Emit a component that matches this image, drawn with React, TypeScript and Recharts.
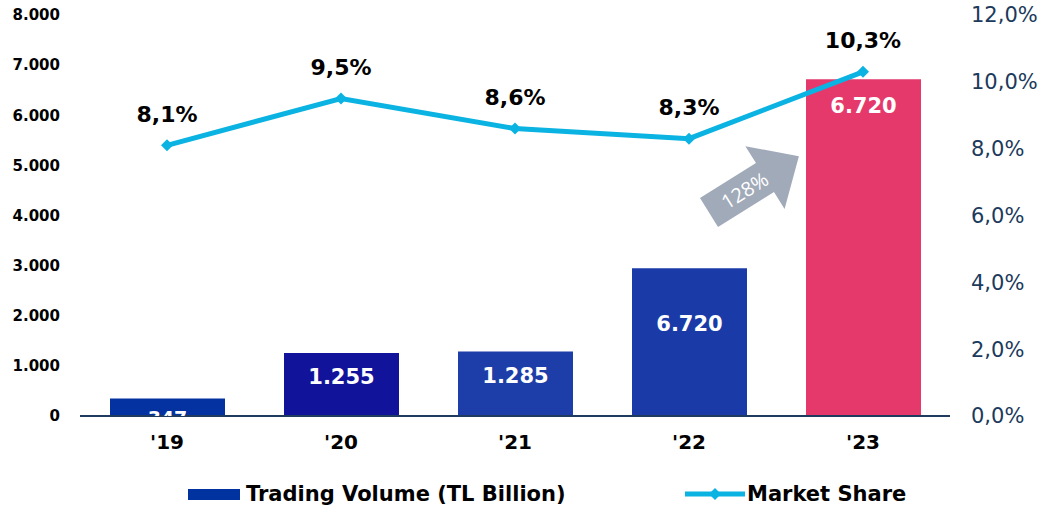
import React from "react";
import {
  ComposedChart,
  Bar,
  Line,
  XAxis,
  YAxis,
  Cell,
  LabelList,
  ReferenceDot,
} from "recharts";

const categories = ["'19", "'20", "'21", "'22", "'23"];
const tradingVolume = [347, 1255, 1285, 2950, 6720];
const volumeLabels = ["347", "1.255", "1.285", "6.720", "6.720"];
const marketShare = [8.1, 9.5, 8.6, 8.3, 10.3];
const barColors = ["#0432A0", "#11139B", "#1D3DA8", "#1A3BA7", "#E5396C"];
const leftTicks = [0, 1000, 2000, 3000, 4000, 5000, 6000, 7000, 8000];
const rightTicks = [0, 2, 4, 6, 8, 10, 12];
const growthLabel = "128%";
const growthAnchorCategory = "'22";
const growthAnchorValue = 4000;

const data = categories.map((c, i) => ({
  cat: c,
  volume: tradingVolume[i],
  volLabel: volumeLabels[i],
  share: marketShare[i],
}));

const FONT = "'DejaVu Sans', Verdana, sans-serif";
const LINE_COLOR = "#0AB3E2";

const fmtThousands = (v: number) =>
  String(v).replace(/\B(?=(\d{3})+(?!\d))/g, ".");
const fmtPct = (v: number) => v.toFixed(1).replace(".", ",") + "%";

const BarLabel = (props: any) => {
  const { x, y, width, height, index } = props;
  const h = Number(height);
  const small = h < 40;
  const cy = small ? y + h + 2 : h > 250 ? y + 27 : y + 0.38 * h;
  const id = `barclip-${index}`;
  return (
    <g>
      <defs>
        <clipPath id={id}>
          <rect x={x} y={y} width={width} height={h} />
        </clipPath>
      </defs>
      <text
        x={x + width / 2}
        y={cy}
        textAnchor="middle"
        dominantBaseline="central"
        fill="#FFFFFF"
        fontFamily={FONT}
        fontWeight="bold"
        fontSize={small ? 19 : 21}
        clipPath={`url(#${id})`}
      >
        {volumeLabels[index]}
      </text>
    </g>
  );
};

const ShareLabel = (props: any) => {
  const { x, y, index } = props;
  return (
    <text
      x={x}
      y={y - 31}
      textAnchor="middle"
      dominantBaseline="central"
      fill="#000000"
      fontFamily={FONT}
      fontWeight="bold"
      fontSize={22}
    >
      {fmtPct(marketShare[index])}
    </text>
  );
};

const Diamond = (props: any) => {
  const { cx, cy } = props;
  if (cx == null || cy == null) return null;
  const r = 6;
  return (
    <polygon
      points={`${cx},${cy - r} ${cx + r},${cy} ${cx},${cy + r} ${cx - r},${cy}`}
      fill={LINE_COLOR}
    />
  );
};

const GrowthArrow = (props: any) => {
  const { cx, cy } = props;
  if (cx == null || cy == null) return null;
  return (
    <g transform={`translate(${cx + 20},${cy - 3}) rotate(-32)`}>
      <polygon
        points="0,-17 66,-17 66,-37 106,0 66,37 66,17 0,17"
        fill="#A1AAB9"
      />
      <text
        x={42}
        y={0}
        textAnchor="middle"
        dominantBaseline="central"
        fill="#FFFFFF"
        fontFamily="'Open Sans', 'DejaVu Sans', sans-serif"
        fontWeight={400}
        fontSize={20}
      >
        {growthLabel}
      </text>
    </g>
  );
};

export default function App() {
  return (
    <div
      style={{
        position: "absolute",
        left: 0,
        top: 0,
        width: 1062,
        height: 513,
        background: "#FFFFFF",
        fontFamily: FONT,
      }}
    >
      <ComposedChart
        width={1062}
        height={470}
        data={data}
        margin={{ top: 15, right: 0, bottom: 0, left: 0 }}
      >
        <XAxis
          dataKey="cat"
          height={54}
          axisLine={{ stroke: "#1F3B5E", strokeWidth: 2 }}
          tickLine={false}
          tickSize={0}
          tickMargin={19}
          tick={{
            fill: "#000000",
            fontFamily: FONT,
            fontWeight: "bold",
            fontSize: 20,
          }}
        />
        <YAxis
          yAxisId="left"
          orientation="left"
          width={80}
          domain={[0, 8000]}
          ticks={leftTicks}
          interval={0}
          axisLine={false}
          tickLine={false}
          tickSize={0}
          tickMargin={20}
          tickFormatter={fmtThousands}
          tick={{
            fill: "#000000",
            fontFamily: FONT,
            fontWeight: "bold",
            fontSize: 15,
          }}
        />
        <YAxis
          yAxisId="right"
          orientation="right"
          width={112}
          domain={[0, 12]}
          ticks={rightTicks}
          interval={0}
          axisLine={false}
          tickLine={false}
          tickSize={0}
          tickMargin={21}
          tickFormatter={fmtPct}
          tick={{ fill: "#1B3A5C", fontFamily: FONT, fontSize: 21 }}
        />
        <Bar
          yAxisId="left"
          dataKey="volume"
          barSize={115}
          isAnimationActive={false}
        >
          {data.map((d, i) => (
            <Cell key={d.cat} fill={barColors[i]} />
          ))}
          <LabelList dataKey="volLabel" content={<BarLabel />} />
        </Bar>
        <Line
          yAxisId="right"
          dataKey="share"
          stroke={LINE_COLOR}
          strokeWidth={5}
          dot={<Diamond />}
          activeDot={false}
          isAnimationActive={false}
        >
          <LabelList dataKey="share" content={<ShareLabel />} />
        </Line>
        <ReferenceDot
          yAxisId="left"
          x={growthAnchorCategory}
          y={growthAnchorValue}
          shape={<GrowthArrow />}
        />
      </ComposedChart>
      <div
        style={{
          position: "absolute",
          left: 188,
          top: 489,
          width: 52,
          height: 11,
          background: "#0033A0",
        }}
      />
      <div
        style={{
          position: "absolute",
          left: 246,
          top: 481,
          fontFamily: FONT,
          fontWeight: "bold",
          fontSize: 21,
          lineHeight: "26px",
          color: "#000000",
          whiteSpace: "nowrap",
        }}
      >
        Trading Volume (TL Billion)
      </div>
      <svg
        style={{ position: "absolute", left: 683, top: 484 }}
        width={64}
        height={20}
      >
        <line x1={2} y1={10} x2={62} y2={10} stroke={LINE_COLOR} strokeWidth={5} />
        <polygon points="32,4 38,10 32,16 26,10" fill={LINE_COLOR} />
      </svg>
      <div
        style={{
          position: "absolute",
          left: 747,
          top: 481,
          fontFamily: FONT,
          fontWeight: "bold",
          fontSize: 21,
          lineHeight: "26px",
          color: "#000000",
          whiteSpace: "nowrap",
        }}
      >
        Market Share
      </div>
    </div>
  );
}
